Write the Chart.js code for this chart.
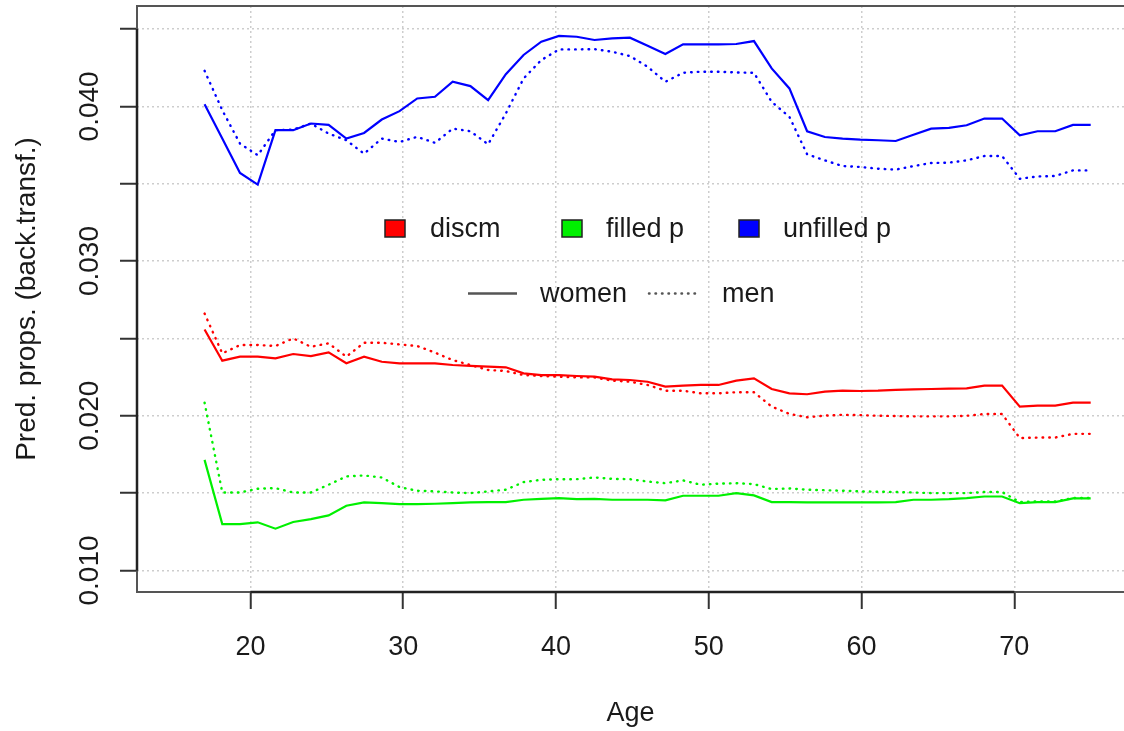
<!DOCTYPE html>
<html>
<head>
<meta charset="utf-8">
<script src="https://cdn.jsdelivr.net/npm/chart.js@4.4.0/dist/chart.umd.min.js"></script>
<style>
  html, body { margin: 0; padding: 0; background: #fff; }
  #wrap { width: 1124px; height: 731px; position: relative; }
</style>
</head>
<body>
<div id="wrap"><canvas id="chart"></canvas></div>
<script>
(function () {
    "use strict";

    // Data
    const ages = [
        17.00, 18.16, 19.32, 20.48, 21.64, 22.80, 23.96, 25.12, 26.28, 27.44,
        28.60, 29.76, 30.92, 32.08, 33.24, 34.40, 35.56, 36.72, 37.88, 39.04,
        40.20, 41.36, 42.52, 43.68, 44.84, 46.00, 47.16, 48.32, 49.48, 50.64,
        51.80, 52.96, 54.12, 55.28, 56.44, 57.60, 58.76, 59.92, 61.08, 62.24,
        63.40, 64.56, 65.72, 66.88, 68.04, 69.20, 70.36, 71.52, 72.68, 73.84,
        75.00,
    ];
    const discmWomen = [
        0.02558, 0.02356, 0.02382, 0.02382, 0.02371, 0.02399, 0.02386, 0.02410, 0.02339, 0.02382,
        0.02349, 0.02339, 0.02339, 0.02339, 0.02328, 0.02322, 0.02317, 0.02313, 0.02274, 0.02263,
        0.02263, 0.02257, 0.02253, 0.02235, 0.02231, 0.02220, 0.02188, 0.02195, 0.02199, 0.02199,
        0.02227, 0.02242, 0.02173, 0.02145, 0.02139, 0.02156, 0.02162, 0.02160, 0.02162, 0.02167,
        0.02171, 0.02173, 0.02175, 0.02177, 0.02195, 0.02195, 0.02059, 0.02065, 0.02066, 0.02085,
        0.02085,
    ];
    const discmMen = [
        0.02661, 0.02403, 0.02457, 0.02457, 0.02451, 0.02500, 0.02446, 0.02468, 0.02382, 0.02472,
        0.02472, 0.02461, 0.02451, 0.02408, 0.02360, 0.02328, 0.02296, 0.02289, 0.02263, 0.02257,
        0.02253, 0.02248, 0.02248, 0.02227, 0.02220, 0.02199, 0.02162, 0.02162, 0.02145, 0.02145,
        0.02152, 0.02152, 0.02059, 0.02012, 0.01990, 0.02001, 0.02006, 0.02004, 0.02000, 0.01998,
        0.01996, 0.01996, 0.01996, 0.02000, 0.02011, 0.02011, 0.01856, 0.01859, 0.01859, 0.01883,
        0.01883,
    ];
    const filledWomen = [
        0.01715, 0.01300, 0.01300, 0.01311, 0.01270, 0.01313, 0.01332, 0.01356, 0.01418, 0.01440,
        0.01435, 0.01429, 0.01429, 0.01431, 0.01435, 0.01440, 0.01442, 0.01442, 0.01457, 0.01463,
        0.01468, 0.01461, 0.01463, 0.01457, 0.01457, 0.01457, 0.01453, 0.01483, 0.01483, 0.01483,
        0.01500, 0.01485, 0.01442, 0.01442, 0.01440, 0.01440, 0.01440, 0.01440, 0.01440, 0.01442,
        0.01457, 0.01457, 0.01461, 0.01468, 0.01478, 0.01478, 0.01435, 0.01442, 0.01442, 0.01466,
        0.01466,
    ];
    const filledMen = [
        0.02085, 0.01504, 0.01504, 0.01528, 0.01532, 0.01504, 0.01504, 0.01554, 0.01608, 0.01614,
        0.01601, 0.01539, 0.01515, 0.01511, 0.01504, 0.01500, 0.01511, 0.01522, 0.01571, 0.01586,
        0.01590, 0.01590, 0.01601, 0.01592, 0.01590, 0.01575, 0.01564, 0.01582, 0.01554, 0.01561,
        0.01564, 0.01558, 0.01526, 0.01530, 0.01522, 0.01519, 0.01515, 0.01511, 0.01509, 0.01507,
        0.01504, 0.01500, 0.01500, 0.01500, 0.01507, 0.01507, 0.01442, 0.01446, 0.01446, 0.01468,
        0.01468,
    ];
    const unfilledWomen = [
        0.04014, 0.03792, 0.03569, 0.03494, 0.03846, 0.03846, 0.03889, 0.03880, 0.03792, 0.03828,
        0.03915, 0.03969, 0.04051, 0.04062, 0.04159, 0.04131, 0.04040, 0.04208, 0.04332, 0.04418,
        0.04455, 0.04450, 0.04429, 0.04440, 0.04444, 0.04392, 0.04338, 0.04401, 0.04401, 0.04401,
        0.04403, 0.04422, 0.04245, 0.04116, 0.03839, 0.03802, 0.03792, 0.03785, 0.03781, 0.03776,
        0.03817, 0.03856, 0.03861, 0.03878, 0.03921, 0.03921, 0.03813, 0.03839, 0.03839, 0.03880,
        0.03880,
    ];
    const unfilledMen = [
        0.04230, 0.03975, 0.03759, 0.03684, 0.03846, 0.03850, 0.03889, 0.03824, 0.03781, 0.03694,
        0.03792, 0.03770, 0.03803, 0.03764, 0.03856, 0.03839, 0.03755, 0.03954, 0.04180, 0.04299,
        0.04368, 0.04368, 0.04370, 0.04353, 0.04325, 0.04256, 0.04159, 0.04217, 0.04224, 0.04224,
        0.04219, 0.04217, 0.04029, 0.03932, 0.03690, 0.03651, 0.03614, 0.03608, 0.03597, 0.03591,
        0.03614, 0.03634, 0.03636, 0.03651, 0.03679, 0.03679, 0.03532, 0.03547, 0.03550, 0.03586,
        0.03586,
    ];

    const xTicks = [20, 30, 40, 50, 60, 70];
    const yTicks = [0.010, 0.015, 0.020, 0.025, 0.030, 0.035, 0.040, 0.045];
    const yLabelValues = [0.010, 0.020, 0.030, 0.040];
    const yLabels = ["0.010", "0.020", "0.030", "0.040"];
    const groupNames = ["discm", "filled p", "unfilled p"];
    const sexNames = ["women", "men"];

    const FONT = "'Liberation Sans', Arial, sans-serif";
    const groupColors = ["#ff0000", "#00f000", "#0000ff"];
    const dotted = [0.6, 6.1];

    const series = [
        [discmWomen, discmMen],
        [filledWomen, filledMen],
        [unfilledWomen, unfilledMen],
    ];

    const datasets = [];
    series.forEach((pair, g) => {
        pair.forEach((values, s) => {
            datasets.push({
                label: groupNames[g] + " " + sexNames[s],
                data: ages.map((a, i) => ({ x: a, y: values[i] })),
                borderColor: groupColors[g],
                borderWidth: s === 1 ? 2.4 : 2.2,
                borderDash: s === 1 ? dotted : [],
                borderCapStyle: s === 1 ? "round" : "butt",
                pointRadius: 0,
                tension: 0,
                fill: false,
            });
        });
    });

    // Box, axis lines, rotated y labels and the two-row legend
    const framePlugin = {
        id: "frame",
        afterDraw(chart) {
            const { ctx, chartArea: a } = chart;
            const xs = chart.scales.x;
            const ys = chart.scales.y;
            ctx.save();

            ctx.strokeStyle = "#555";
            ctx.lineWidth = 2;
            ctx.beginPath();
            ctx.moveTo(a.right + 5, a.top);
            ctx.lineTo(a.left, a.top);
            ctx.lineTo(a.left, a.bottom);
            ctx.lineTo(a.right + 5, a.bottom);
            ctx.stroke();

            ctx.strokeStyle = "#222";
            ctx.lineWidth = 2.5;
            ctx.beginPath();
            ctx.moveTo(xs.getPixelForValue(xTicks[0]), a.bottom);
            ctx.lineTo(xs.getPixelForValue(xTicks[xTicks.length - 1]), a.bottom);
            ctx.moveTo(a.left, ys.getPixelForValue(yTicks[0]));
            ctx.lineTo(a.left, ys.getPixelForValue(yTicks[yTicks.length - 1]));
            ctx.stroke();

            // y tick labels, parallel to the axis
            ctx.fillStyle = "#1a1a1a";
            ctx.font = "28px " + FONT;
            ctx.textAlign = "center";
            ctx.textBaseline = "alphabetic";
            yLabelValues.forEach((v, i) => {
                ctx.save();
                ctx.translate(98, ys.getPixelForValue(v));
                ctx.rotate(-Math.PI / 2);
                ctx.fillText(yLabels[i], 0, 0);
                ctx.restore();
            });

            // legend row 1: colour keys
            const keyX = [385, 562, 739];
            const textX = [430, 606, 783];
            ctx.font = "27px " + FONT;
            ctx.textAlign = "left";
            ctx.textBaseline = "middle";
            groupNames.forEach((name, g) => {
                ctx.fillStyle = groupColors[g];
                ctx.fillRect(keyX[g], 220, 20, 17);
                ctx.strokeStyle = "#222";
                ctx.lineWidth = 1.5;
                ctx.strokeRect(keyX[g], 220, 20, 17);
                ctx.fillStyle = "#1a1a1a";
                ctx.fillText(name, textX[g], 229.5);
            });

            // legend row 2: line styles
            const lineX = [[468, 517], [649, 699]];
            const lineTextX = [540, 722];
            sexNames.forEach((name, s) => {
                ctx.strokeStyle = "#555";
                ctx.lineWidth = 2.5;
                ctx.setLineDash(s === 1 ? [0.5, 6] : []);
                ctx.lineCap = s === 1 ? "round" : "butt";
                ctx.beginPath();
                ctx.moveTo(lineX[s][0], 293.5);
                ctx.lineTo(lineX[s][1], 293.5);
                ctx.stroke();
                ctx.setLineDash([]);
                ctx.fillStyle = "#1a1a1a";
                ctx.fillText(name, lineTextX[s], 295);
            });

            ctx.restore();
        },
    };

    const gridOpts = {
        color: "#cdcdcd",
        lineWidth: 1.5,
        tickColor: "#333",
        tickWidth: 2,
        tickLength: 17,
    };

    const ctx = document.getElementById("chart").getContext("2d");
    new Chart(ctx, {
        type: "line",
        data: { datasets: datasets },
        plugins: [framePlugin],
        options: {
            responsive: true,
            maintainAspectRatio: false,
            animation: false,
            layout: { padding: { top: 6, left: 0, right: 0, bottom: 0 } },
            plugins: {
                legend: { display: false },
                tooltip: { enabled: false },
            },
            scales: {
                x: {
                    type: "linear",
                    min: 12.578,
                    max: 77.18,
                    afterBuildTicks: (scale) => {
                        scale.ticks = xTicks.map((v) => ({ value: v }));
                    },
                    afterFit: (scale) => {
                        scale.height = 139;
                    },
                    grid: gridOpts,
                    border: { display: false, dash: [2, 3] },
                    ticks: {
                        color: "#1a1a1a",
                        font: { family: FONT, size: 27 },
                        padding: 22,
                        maxRotation: 0,
                        autoSkip: false,
                    },
                    title: {
                        display: true,
                        text: "Age",
                        color: "#1a1a1a",
                        font: { family: FONT, size: 27 },
                        padding: { top: 0, bottom: 1 },
                    },
                },
                y: {
                    type: "linear",
                    min: 0.008607,
                    max: 0.046487,
                    afterBuildTicks: (scale) => {
                        scale.ticks = yTicks.map((v) => ({ value: v }));
                    },
                    afterFit: (scale) => {
                        scale.width = 137;
                    },
                    grid: gridOpts,
                    border: { display: false, dash: [2, 3] },
                    ticks: { display: false },
                    title: {
                        display: true,
                        text: "Pred. props. (back.transf.)",
                        color: "#1a1a1a",
                        font: { family: FONT, size: 28 },
                        padding: { top: 10, bottom: 0 },
                    },
                },
            },
        },
    });
})();
</script>
</body>
</html>
